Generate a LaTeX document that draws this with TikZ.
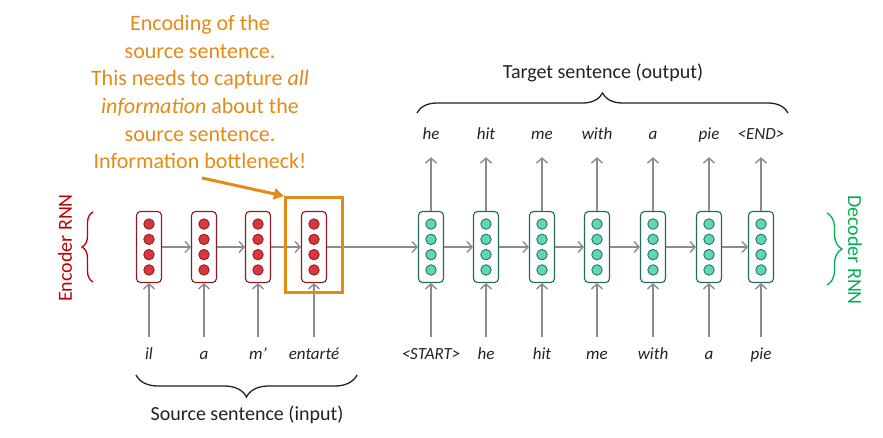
\documentclass[tikz,border=0pt]{standalone}
\usepackage{fontspec}
\setmainfont{Carlito}
\usetikzlibrary{positioning, arrows.meta, decorations.pathreplacing, calc}
\definecolor{encred}{HTML}{C00000}
\definecolor{cellred}{HTML}{D9363E}
\definecolor{edgered}{HTML}{8E1B1F}
\definecolor{cellteal}{HTML}{5FD6B8}
\definecolor{edgeteal}{HTML}{226B57}
\definecolor{decgreen}{HTML}{00B050}
\definecolor{notegold}{HTML}{E48A16}
\definecolor{wire}{HTML}{8C8C8C}
\definecolor{ink}{HTML}{222222}

\begin{document}
\begin{tikzpicture}[
    x=1pt, y=-1pt,
    cell/.style={draw, line width=1.1pt, rounded corners=4pt, fill=white, minimum width=25pt, minimum height=71pt, inner sep=0pt},
    unit/.style={circle, draw, line width=0.8pt, minimum size=10.5pt, inner sep=0pt},
    word/.style={font=\fontsize{17}{20}\selectfont\itshape, text=ink, inner sep=0pt, text height=12pt, text depth=4pt, minimum height=36pt},
    heading/.style={font=\fontsize{20}{24}\selectfont},
    arr/.style={-{Straight Barb[length=5pt, width=11pt]}, line width=1.4pt, draw=wire},
    curly/.style={decorate, decoration={brace, amplitude=#1}, line width=1.3pt}
]
    \useasboundingbox (0,0) rectangle (883,437);

    % encoder
    \foreach \i/\x/\w in {1/149/il, 2/204/a, 3/258/m’, 4/314/entarté} {
        \node[cell, draw=edgered] (enc\i) at (\x,247) {};
        \foreach \k in {1,...,4}
            \node[unit, fill=cellred, draw=edgered] (enc\i u\k) at ($(enc\i)+(0,{(\k-2.5)*15.3})$) {};
        \node[word] (src\i) at (\x,355) {\w};
        \draw[arr] (src\i.north) -- (enc\i.south);
    }

    % decoder
    \foreach \i/\x/\w/\o in {1/431/<START>/he, 2/486/he/hit, 3/542/hit/me, 4/597/me/with, 5/653/with/a, 6/709/a/pie, 7/761/pie/<END>} {
        \node[cell, draw=edgeteal] (dec\i) at (\x,247) {};
        \foreach \k in {1,...,4}
            \node[unit, fill=cellteal, draw=edgeteal] (dec\i u\k) at ($(dec\i)+(0,{(\k-2.5)*15.3})$) {};
        \node[word] (din\i) at (\x,355) {\w};
        \node[word] (out\i) at (\x,135) {\o};
        \draw[arr] (din\i.north) -- (dec\i.south);
        \draw[arr, shorten >=4pt] (dec\i.north) -- (out\i.south);
    }

    \draw[arr] (enc1.east) -- (enc2.west);
    \draw[arr] (enc2.east) -- (enc3.west);
    \draw[arr] (enc3.east) -- (enc4.west);
    \draw[arr] (enc4.east) -- (dec1.west);
    \foreach \i [evaluate=\i as \j using int(\i+1)] in {1,...,6}
        \draw[arr] (dec\i.east) -- (dec\j.west);

    % bottleneck note
    \node[draw=notegold, line width=3pt, minimum width=57pt, minimum height=95pt, inner sep=0pt] (focus) at (314,245) {};
    \node[font=\fontsize{22}{27.7}\selectfont, text=notegold, align=center] (note) at (200,92)
        {Encoding of the\\source sentence.\\This needs to capture \textit{all}\\\textit{information} about the\\source sentence.\\Information bottleneck!};
    \coordinate (tail) at (202,178);
    \draw[-{Triangle[length=10pt, width=11pt]}, line width=3pt, notegold] (tail) -- (focus.north west);

    % sentence labels
    \node[heading, text=ink] (tgt) at (603,73) {Target sentence (output)};
    \draw[curly=20pt, ink] (417,113) -- (788,113);
    \node[heading, text=ink] (srclab) at (247,415) {Source sentence (input)};
    \draw[curly=22pt, ink] (357,375) -- (136,375);

    % rnn labels
    \node[heading, text=encred, rotate=90] (enclab) at (65,248) {Encoder RNN};
    \draw[curly=11pt, encred] (93,282) -- (93,212);
    \node[heading, text=decgreen, rotate=-90] (declab) at (855,250) {Decoder RNN};
    \draw[curly=15pt, decgreen] (827,213) -- (827,285);
\end{tikzpicture}
\end{document}
